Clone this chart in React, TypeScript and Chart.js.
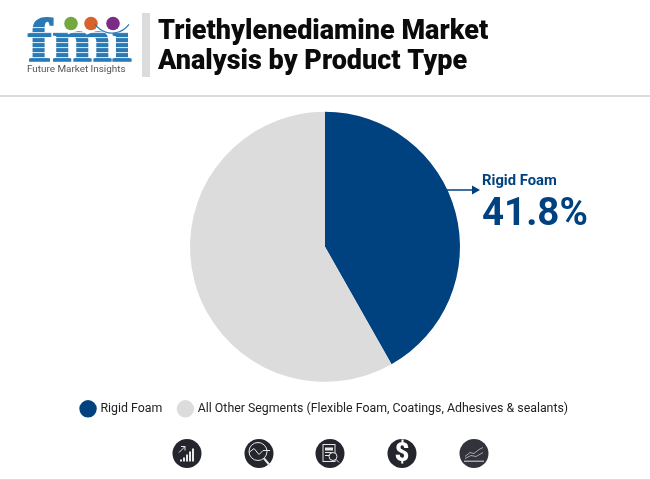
import React, { useEffect, useRef } from "react";
import { Chart, registerables } from "chart.js";

Chart.register(...registerables);

const categories = ["Rigid Foam", "All Other Segments (Flexible Foam, Coatings, Adhesives & sealants)"];
const shares = [41.8, 58.2];
const sliceColors = ["#00417f", "#dcdcdc"];
const titleLines = ["Triethylenediamine Market", "Analysis by Product Type"];
const logoCaption = "Future Market Insights";
const iconCenters = [187, 259, 330, 402, 474];

// everything around the pie: header, logo, callout, icon row
function drawLogo(ctx: CanvasRenderingContext2D) {
  ctx.save();
  ctx.fillStyle = "#2a7ab5";
  ctx.strokeStyle = "#2a7ab5";
  ctx.lineWidth = 1.6;
  ctx.textBaseline = "alphabetic";
  ctx.textAlign = "left";
  ctx.font = "bold 62px 'Liberation Serif'";
  ctx.save();
  ctx.translate(28, 61);
  ctx.scale(1.16, 1);
  ctx.fillText("fmı", 0, 0);
  ctx.strokeText("fmı", 0, 0);
  ctx.restore();
  ctx.fillStyle = "rgba(255,255,255,0.8)";
  for (let y = 27; y < 63; y += 5) ctx.fillRect(20, y, 115, 1.1);
  const dots: [number, string][] = [[71, "#74a83f"], [91, "#d9622b"], [113, "#7b2d86"]];
  dots.forEach(([x, c]) => {
    ctx.fillStyle = c;
    ctx.beginPath();
    ctx.arc(x, 23.5, 6.8, 0, Math.PI * 2);
    ctx.fill();
  });
  ctx.strokeStyle = "#2a7ab5";
  ctx.lineWidth = 1.2;
  ctx.beginPath();
  ctx.arc(112, 12, 21, Math.PI * 0.2, Math.PI * 0.8);
  ctx.stroke();
  ctx.fillStyle = "#555";
  ctx.font = "9.9px Roboto";
  ctx.fillText(logoCaption, 27, 72);
  ctx.restore();
}

function drawIcon(ctx: CanvasRenderingContext2D, i: number, cx: number, cy: number) {
  ctx.save();
  ctx.fillStyle = i === 4 ? "#33333b" : "#25252d";
  ctx.beginPath();
  ctx.arc(cx, cy, 14.5, 0, Math.PI * 2);
  ctx.fill();
  ctx.strokeStyle = "#e8e8e8";
  ctx.fillStyle = "#e8e8e8";
  ctx.lineWidth = 1;
  if (i === 0) {
    [[-7, 2], [-4, 4], [-1, 7], [2, 10], [5, 13]].forEach(([dx, h]) => ctx.fillRect(cx + dx, cy + 8 - h, 2, h));
    ctx.beginPath();
    ctx.moveTo(cx - 8, cy - 1);
    ctx.lineTo(cx - 2, cy - 7);
    ctx.moveTo(cx - 6, cy - 7);
    ctx.lineTo(cx - 2, cy - 7);
    ctx.lineTo(cx - 2, cy - 3);
    ctx.stroke();
  } else if (i === 1) {
    ctx.beginPath();
    ctx.arc(cx - 1, cy - 2, 9, 0, Math.PI * 2);
    ctx.stroke();
    ctx.beginPath();
    ctx.moveTo(cx - 10, cy - 1);
    ctx.lineTo(cx - 5, cy - 5);
    ctx.lineTo(cx, cy + 1);
    ctx.lineTo(cx + 4, cy - 3);
    ctx.lineTo(cx + 11, cy - 3);
    ctx.stroke();
    ctx.lineWidth = 2;
    ctx.beginPath();
    ctx.moveTo(cx + 5, cy + 5);
    ctx.lineTo(cx + 11, cy + 12);
    ctx.stroke();
  } else if (i === 2) {
    ctx.strokeRect(cx - 7, cy - 9, 12, 17);
    ctx.fillRect(cx - 5, cy - 6, 8, 3);
    ctx.beginPath();
    ctx.moveTo(cx - 5, cy - 1);
    ctx.lineTo(cx + 2, cy - 1);
    ctx.moveTo(cx - 5, cy + 2);
    ctx.lineTo(cx, cy + 2);
    ctx.stroke();
    ctx.beginPath();
    ctx.arc(cx + 3, cy + 3, 4, 0, Math.PI * 2);
    ctx.fillStyle = "#25252d";
    ctx.fill();
    ctx.stroke();
    ctx.beginPath();
    ctx.moveTo(cx + 6, cy + 6);
    ctx.lineTo(cx + 9, cy + 9);
    ctx.stroke();
  } else if (i === 3) {
    ctx.fillStyle = "#fff";
    ctx.font = "900 25px Roboto";
    ctx.textAlign = "center";
    ctx.textBaseline = "middle";
    ctx.fillText("$", cx, cy + 1);
  } else {
    ctx.strokeStyle = "#a8a8a8";
    ctx.beginPath();
    ctx.moveTo(cx - 9, cy + 3);
    ctx.lineTo(cx - 4, cy - 1);
    ctx.lineTo(cx, cy);
    ctx.lineTo(cx + 5, cy - 4);
    ctx.lineTo(cx + 9, cy - 6);
    ctx.moveTo(cx - 9, cy + 5);
    ctx.lineTo(cx - 3, cy + 2);
    ctx.lineTo(cx + 2, cy + 3);
    ctx.lineTo(cx + 9, cy - 1);
    ctx.stroke();
    ctx.fillStyle = "#a8a8a8";
    ctx.fillRect(cx - 10, cy + 7, 20, 1.5);
  }
  ctx.restore();
}

const decorations = {
  id: "decorations",
  afterDraw(chart: Chart) {
    const ctx = chart.ctx;
    ctx.save();
    drawLogo(ctx);

    ctx.fillStyle = "#dcdcdc";
    ctx.fillRect(142, 13, 8, 64);
    ctx.fillRect(0, 95, 650, 2);
    ctx.fillRect(0, 479, 650, 1);

    ctx.fillStyle = "#0b0b0b";
    ctx.textAlign = "left";
    ctx.textBaseline = "alphabetic";
    ctx.font = "900 27px Roboto";
    ctx.fillText(titleLines[0], 158, 39);
    ctx.fillText(titleLines[1], 158, 69);

    // callout anchored on the blue slice
    ctx.strokeStyle = sliceColors[0];
    ctx.fillStyle = sliceColors[0];
    ctx.lineWidth = 1.5;
    ctx.beginPath();
    ctx.moveTo(446, 190);
    ctx.lineTo(474, 190);
    ctx.stroke();
    ctx.beginPath();
    ctx.moveTo(480, 190);
    ctx.lineTo(472, 185.5);
    ctx.lineTo(472, 194.5);
    ctx.closePath();
    ctx.fill();
    ctx.font = "bold 14.8px Roboto";
    ctx.fillText(categories[0], 482, 185);
    ctx.font = "bold 38.5px Roboto";
    ctx.fillText(`${shares[0]}%`, 482, 225);

    iconCenters.forEach((x, i) => drawIcon(ctx, i, x, 453.5));
    ctx.restore();
  },
};

export default function App() {
  const canvasRef = useRef<HTMLCanvasElement | null>(null);

  useEffect(() => {
    if (!canvasRef.current) return;
    const chart = new Chart(canvasRef.current, {
      type: "pie",
      data: {
        labels: categories,
        datasets: [{ data: shares, backgroundColor: sliceColors, borderWidth: 0, radius: 135 }],
      },
      options: {
        responsive: false,
        animation: false,
        layout: { padding: { top: 108, bottom: 55 } },
        plugins: {
          legend: {
            position: "bottom",
            labels: {
              usePointStyle: true,
              padding: 17,
              color: "#222",
              font: { family: "Roboto", size: 12.35 },
            },
          },
          tooltip: { enabled: false },
        },
      },
      plugins: [decorations],
    });
    return () => chart.destroy();
  }, []);

  return (
    <div style={{ position: "absolute", left: 0, top: 0 }}>
      <canvas ref={canvasRef} width={650} height={480} style={{ display: "block" }} />
    </div>
  );
}
